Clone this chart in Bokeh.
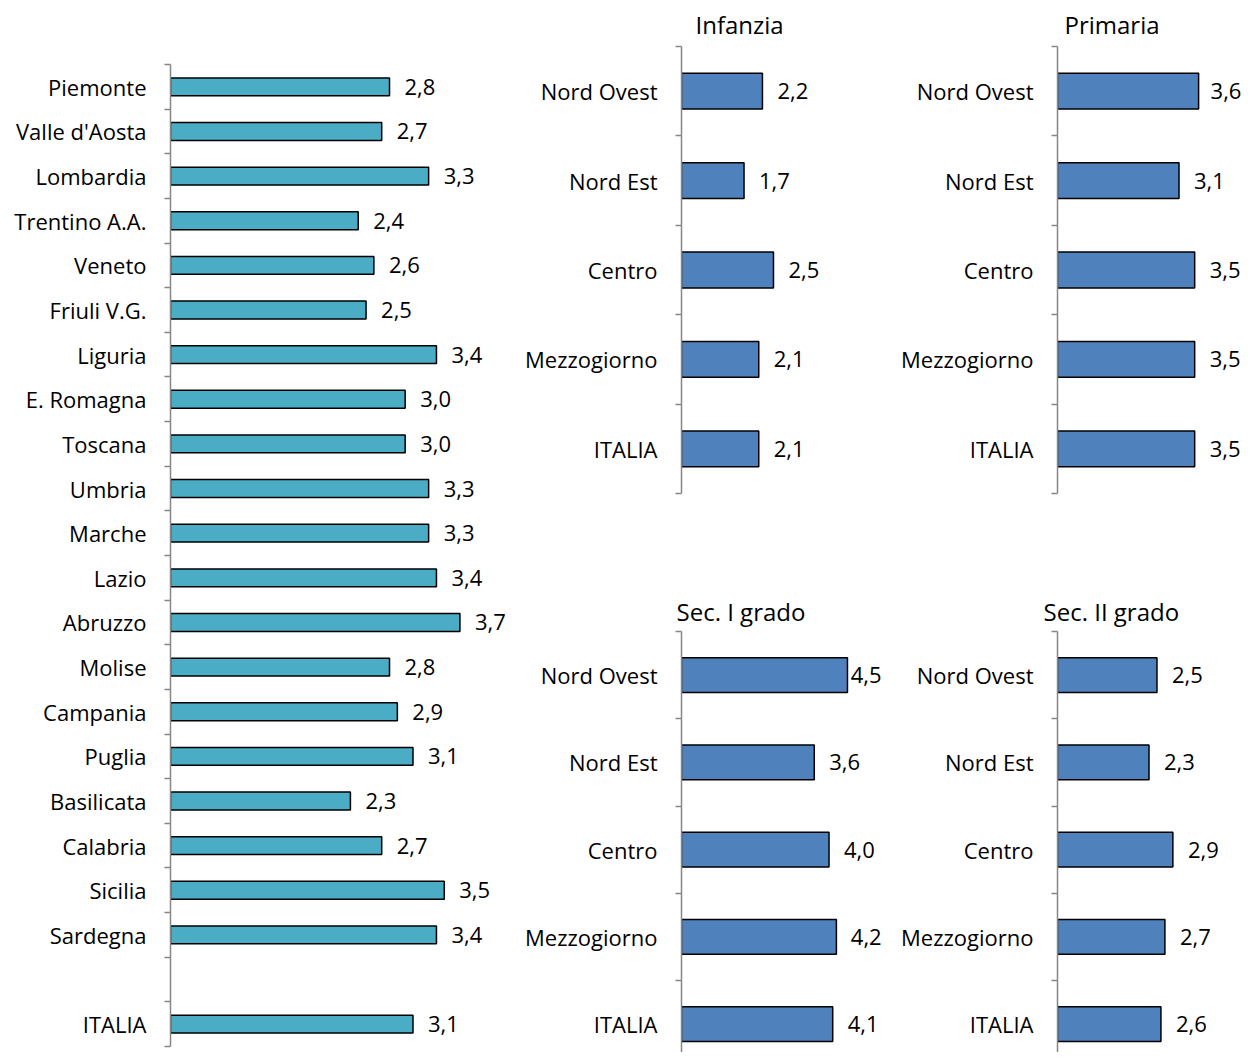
from bokeh.plotting import figure
from bokeh.models import ColumnDataSource, Range1d, FixedTicker, Title
from bokeh.layouts import row, column
from bokeh.core.properties import value
from bokeh.embed import file_html
from bokeh.resources import INLINE

# ---------------- data ----------------
regions = ["Piemonte", "Valle d'Aosta", "Lombardia", "Trentino A.A.", "Veneto",
           "Friuli V.G.", "Liguria", "E. Romagna", "Toscana", "Umbria", "Marche",
           "Lazio", "Abruzzo", "Molise", "Campania", "Puglia", "Basilicata",
           "Calabria", "Sicilia", "Sardegna"]
region_values = [2.8, 2.7, 3.3, 2.4, 2.6, 2.5, 3.4, 3.0, 3.0, 3.3, 3.3,
                 3.4, 3.7, 2.8, 2.9, 3.1, 2.3, 2.7, 3.5, 3.4]
italia_label = "ITALIA"
italia_value = 3.1

areas = ["Nord Ovest", "Nord Est", "Centro", "Mezzogiorno", "ITALIA"]
infanzia = [2.2, 1.7, 2.5, 2.1, 2.1]
primaria = [3.6, 3.1, 3.5, 3.5, 3.5]
sec_i = [4.5, 3.6, 4.0, 4.2, 4.1]
sec_ii = [2.5, 2.3, 2.9, 2.7, 2.6]
panel_titles = ["Infanzia", "Primaria", "Sec. I grado", "Sec. II grado"]

# ---------------- style ----------------
FONT = "Open Sans"
LBL = "22px"
AXIS_GRAY = "#868686"
AQUA = "#4BACC6"
BLUE = "#4F81BD"


def fmt(v):
    return f"{v:.1f}".replace(".", ",")


def make_panel(cats, vals, color, x_end, y_start, width, height,
               b_left, b_top, b_bottom, title=None, title_offset=0,
               title_standoff=6):
    n = len(cats)
    ys = [n - i - 0.5 for i in range(n)]
    keep = [i for i, c in enumerate(cats) if c != ""]
    p = figure(width=width, height=height, output_backend="svg",
               toolbar_location=None, x_axis_location=None,
               x_range=Range1d(0, x_end), y_range=Range1d(y_start, n),
               min_border_left=b_left, min_border_right=0,
               min_border_top=b_top, min_border_bottom=b_bottom)
    p.outline_line_color = None
    p.grid.visible = False
    p.background_fill_color = "white"
    p.border_fill_color = "white"

    frame_w = width - b_left
    px_per_unit = frame_w / x_end
    lab_w = 1.45 * int(LBL.replace("px", ""))
    offs = []
    for i in keep:
        avail = frame_w - vals[i] * px_per_unit
        offs.append(max(2, min(15, avail - lab_w)))

    src = ColumnDataSource(dict(
        y=[ys[i] for i in keep],
        v=[vals[i] for i in keep],
        t=[fmt(vals[i]) for i in keep],
        off=offs,
    ))
    p.hbar(y="y", left=0, right="v", height=0.4, source=src,
           fill_color=color, line_color="black", line_width=1.5)
    p.text(x="v", y="y", text="t", x_offset="off", source=src,
           text_baseline="middle", text_align="left",
           text_font=value(FONT), text_font_size=LBL, text_color="black")

    ax = p.yaxis[0]
    ax.ticker = FixedTicker(ticks=[ys[i] for i in keep],
                            minor_ticks=list(range(0, n + 1)))
    ax.major_label_overrides = {ys[i]: cats[i] for i in keep}
    ax.major_tick_out = 0
    ax.major_tick_in = 0
    ax.minor_tick_out = 6
    ax.minor_tick_in = 0
    ax.minor_tick_line_color = AXIS_GRAY
    ax.minor_tick_line_width = 1.5
    ax.axis_line_color = AXIS_GRAY
    ax.axis_line_width = 1.5
    ax.major_label_standoff = 18
    ax.major_label_text_font = FONT
    ax.major_label_text_font_size = LBL
    ax.major_label_text_color = "black"

    if title:
        p.title = Title(text=title, align="left", offset=title_offset,
                        text_font=FONT, text_font_size="24px",
                        text_font_style="normal", text_color="black",
                        standoff=title_standoff)
    return p


left = make_panel(regions + ["", italia_label], region_values + [0, italia_value],
                  AQUA, x_end=4.5, y_start=0, width=522, height=1052,
                  b_left=170, b_top=64, b_bottom=6)

inf = make_panel(areas, infanzia, BLUE, x_end=4.05, y_start=0,
                 width=308, height=560, b_left=158, b_top=46, b_bottom=62,
                 title=panel_titles[0], title_offset=14, title_standoff=11)
prim = make_panel(areas, primaria, BLUE, x_end=4.72, y_start=0,
                  width=412, height=560, b_left=227, b_top=44, b_bottom=67,
                  title=panel_titles[1], title_offset=7, title_standoff=11)
sec1 = make_panel(areas, sec_i, BLUE, x_end=5.45, y_start=0.175,
                  width=360, height=492, b_left=158, b_top=71, b_bottom=0,
                  title=panel_titles[2], title_offset=-5, title_standoff=8)
sec2 = make_panel(areas, sec_ii, BLUE, x_end=4.65, y_start=0.175,
                  width=360, height=492, b_left=175, b_top=71, b_bottom=0,
                  title=panel_titles[3], title_offset=-14, title_standoff=8)

layout = row(left, column(row(inf, prim), row(sec1, sec2)))

open("out.html", "w").write(file_html(layout, INLINE))
